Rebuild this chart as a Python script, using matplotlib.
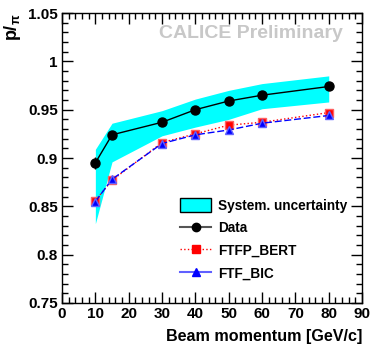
import matplotlib
matplotlib.use("Agg")
import matplotlib.pyplot as plt
from matplotlib.patches import Patch
from matplotlib.lines import Line2D
from matplotlib.ticker import MultipleLocator

plt.rcParams['font.family'] = ['Liberation Sans', 'DejaVu Sans']
plt.rcParams['font.weight'] = 'bold'
plt.rcParams['mathtext.fontset'] = 'custom'
plt.rcParams['mathtext.rm'] = 'Liberation Sans:bold'
plt.rcParams['mathtext.it'] = 'Liberation Sans:bold'
plt.rcParams['mathtext.bf'] = 'Liberation Sans:bold'

# beam momenta [GeV/c]
momentum = [10, 15, 30, 40, 50, 60, 80]

# measured p/pi ratio
data = [0.895, 0.924, 0.937, 0.950, 0.959, 0.965, 0.974]
data_err = [0.006, 0.002, 0.002, 0.002, 0.002, 0.002, 0.002]

# systematic band
syst_hi = [0.909, 0.936, 0.949, 0.961, 0.970, 0.977, 0.985]
syst_lo = [0.832, 0.896, 0.923, 0.932, 0.940, 0.951, 0.958]

# simulations
ftfp_bert = [0.856, 0.877, 0.916, 0.925, 0.934, 0.937, 0.947]
ftf_bic = [0.855, 0.878, 0.915, 0.924, 0.929, 0.936, 0.944]

fig = plt.figure(figsize=(3.7, 3.46), dpi=100)
ax = fig.add_axes([0.1676, 0.1243, 0.811, 0.838])

ax.fill_between(momentum, syst_lo, syst_hi, color='#00ffff', lw=0)
ax.plot(momentum, ftfp_bert, color='red', ls=':', lw=1, marker='s', ms=6,
        mec='#ff6060', mfc='red')
ax.plot(momentum, ftf_bic, color='blue', ls='--', lw=1, dashes=(5, 2), marker='^', ms=6,
        mec='#6060ff', mfc='blue')
ax.errorbar(momentum, data, yerr=data_err, color='black', lw=1, marker='o', ms=6.5,
            capsize=0)

ax.set_xlim(0, 90)
ax.set_ylim(0.75, 1.05)
ax.xaxis.set_major_locator(MultipleLocator(10))
ax.xaxis.set_minor_locator(MultipleLocator(2))
ax.yaxis.set_major_locator(MultipleLocator(0.05))
ax.yaxis.set_minor_locator(MultipleLocator(0.01))
ax.set_yticks([0.75, 0.8, 0.85, 0.9, 0.95, 1.0, 1.05])
ax.set_yticklabels(['0.75', '0.8', '0.85', '0.9', '0.95', '1', '1.05'])
ax.tick_params(which='both', direction='in', top=True, right=True, labelsize=11, width=1)
ax.tick_params(which='major', length=8, pad=3)
ax.tick_params(which='minor', length=4)
for s in ax.spines.values():
    s.set_linewidth(1)

ax.set_xlabel('Beam momentum [GeV/c]', fontsize=11.6, fontweight='bold', loc='right', labelpad=6)
ax.set_ylabel(r'p/$_{\pi}$', fontsize=13, fontweight='bold', loc='top', labelpad=4)

ax.text(0.937, 0.931, 'CALICE Preliminary', transform=ax.transAxes, ha='right', va='center',
        fontsize=14, fontweight='bold', color='#c8c8c8')

handles = [
    Patch(facecolor='#00ffff', edgecolor='black', lw=1),
    Line2D([], [], color='#555555', lw=1.5, marker='o', mfc='black', mec='black', ms=6),
    Line2D([], [], color='red', ls=':', lw=1, marker='s', mfc='red', mec='red', ms=6),
    Line2D([], [], color='#6060ff', lw=1.5, marker='^', mfc='blue', mec='blue', ms=6),
]
labels = ['System. uncertainty', 'Data', 'FTFP_BERT', 'FTF_BIC']
ax.legend(handles, labels, loc='upper left', bbox_to_anchor=(0.353, 0.403), frameon=False,
          prop={'weight': 'bold', 'size': 9.8}, handlelength=2.3, handleheight=1.15,
          labelspacing=0.6, handletextpad=0.5)

fig.savefig('out.png', dpi=100)
